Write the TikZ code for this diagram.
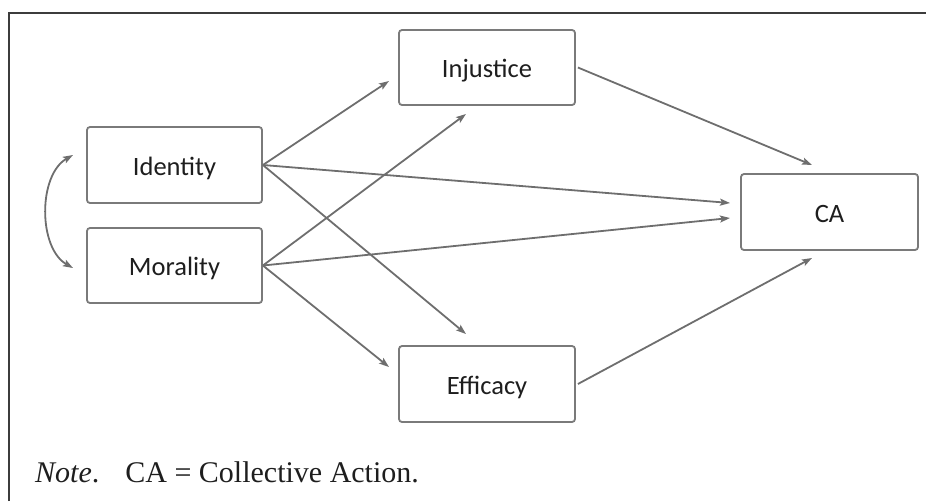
\documentclass[tikz,border=0pt]{standalone}
\usepackage{fontspec}
\setmainfont{Liberation Serif}
\newfontfamily\boxfont{Carlito}
\usetikzlibrary{arrows.meta,calc}
\begin{document}
\begin{tikzpicture}[x=1pt,y=-1pt,
  varbox/.style={draw=boxgray,line width=1.8pt,rounded corners=3pt,fill=white,
    minimum width=175pt,minimum height=76pt,inner sep=0pt,
    text height=24pt,text depth=4pt,
    font=\boxfont\fontsize{26.5}{30}\selectfont,text=textgray},
  link/.style={draw=linegray,line width=1.8pt,-{Stealth[length=10pt,width=7pt,inset=2pt]}}]
\definecolor{boxgray}{HTML}{7A7A7A}
\definecolor{linegray}{HTML}{6E6E6E}
\definecolor{textgray}{HTML}{1E1E1E}
\definecolor{framegray}{HTML}{3C3C3C}
\useasboundingbox (0,0) rectangle (926,501);
\draw[framegray,line width=1.6pt] (9,501) -- (9,13) -- (926,13);
\node[varbox] (id) at (174.5,165) {Identity};
\node[varbox,minimum height=75pt] (mor) at (174.5,265.5) {Morality};
\node[varbox,minimum width=176pt,minimum height=75pt] (inj) at (487,67.5) {Injustice};
\node[varbox,minimum width=176pt] (eff) at (487,384) {Efficacy};
\node[varbox,minimum width=177pt] (ca) at (829.5,212) {CA};
\coordinate (tInjA) at (389,81);
\coordinate (tInjB) at (466,114);
\coordinate (tEffA) at (466,334);
\coordinate (tEffB) at (389,367);
\coordinate (tCaA) at (730,203);
\coordinate (tCaB) at (730,218);
\coordinate (tCaT) at (812,165);
\coordinate (tCaD) at (812,258);
\coordinate (tId) at (73,155);
\coordinate (tMor) at (73,268);
\draw[link] (id.east) -- (tInjA);
\draw[link] (id.east) -- (tCaA);
\draw[link] (id.east) -- (tEffA);
\draw[link] (mor.east) -- (tInjB);
\draw[link] (mor.east) -- (tCaB);
\draw[link] (mor.east) -- (tEffB);
\draw[link] ($(inj.east)+(2,0)$) -- (tCaT);
\draw[link] ($(eff.east)+(2,0)$) -- (tCaD);
\draw[draw=linegray,line width=1.8pt,{Stealth[length=10pt,width=7pt,inset=2pt]}-{Stealth[length=10pt,width=7pt,inset=2pt]}]
  (tId) .. controls (38,175) and (38,248) .. (tMor);
\node[anchor=base west,inner sep=0pt,font=\fontsize{30}{34}\selectfont,text=textgray] (note) at (35,482)
  {\textit{Note}.\hspace{26pt}CA = Collective Action.};
\end{tikzpicture}
\end{document}
